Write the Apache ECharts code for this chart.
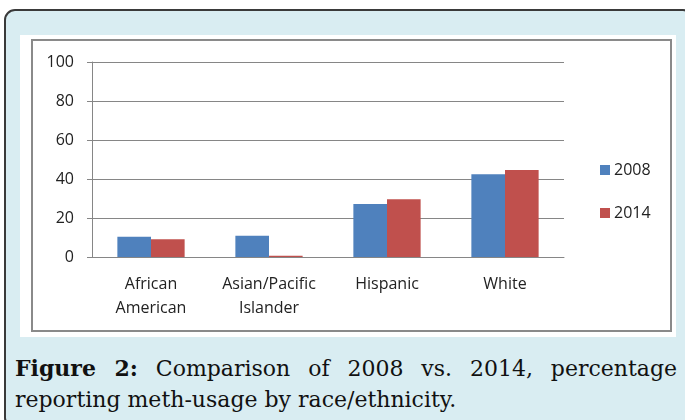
<!DOCTYPE html>
<html>
<head>
<meta charset="utf-8">
<script src="https://cdn.jsdelivr.net/npm/echarts@6/dist/echarts.min.js"></script>
<style>
  html, body { margin: 0; padding: 0; background: #fff; }
  #frame {
    position: absolute; left: 4px; top: 9px; width: 690px; height: 420px;
    background: #d9edf2; border: 2px solid #3a3a3a; border-radius: 11px;
    box-sizing: border-box;
  }
  #panel { position: absolute; left: 20px; top: 35px; width: 656px; height: 302px; background: #fff; }
  #box { position: absolute; left: 31px; top: 39px; width: 641px; height: 293px; border: 2px solid #8a8a8a; box-sizing: border-box; }
  #chart { position: absolute; left: 0; top: 0; width: 685px; height: 420px; }
  .cap { position: absolute; left: 15px; width: 662px; font-family: "DejaVu Serif", serif; font-size: 22px; color: #111; white-space: nowrap; }
  .cap b { font-weight: 600; }
  #cap1 { top: 355px; text-align: justify; text-align-last: justify; white-space: normal; }
  #cap2 { top: 387px; }
</style>
</head>
<body>
<div id="frame"></div>
<div id="panel"></div>
<div id="box"></div>
<div id="cap1" class="cap"><b>Figure 2:</b> Comparison of 2008 vs. 2014, percentage</div>
<div id="cap2" class="cap">reporting meth-usage by race/ethnicity.</div>
<div id="chart"></div>
<script>
const categories = ['African\nAmerican', 'Asian/Pacific\nIslander', 'Hispanic', 'White']
const values2008 = [10.4, 10.9, 27.2, 42.4]
const values2014 = [9.1, 0.6, 29.6, 44.6]
const yTicks = { min: 0, max: 100, interval: 20 }

const font = 'Open Sans'
const chart = echarts.init(document.getElementById('chart'))
chart.setOption({
  animation: false,
  backgroundColor: 'transparent',
  grid: { left: 92, right: 121, top: 62, bottom: 163 },
  legend: {
    orient: 'vertical',
    left: 595, top: 157,
    itemWidth: 10, itemHeight: 10, itemGap: 27,
    icon: 'rect',
    textStyle: { fontFamily: font, fontSize: 16, color: '#222', padding: [0, 0, 0, -1] },
    data: ['2008', '2014']
  },
  xAxis: {
    type: 'category',
    data: categories,
    axisLine: { lineStyle: { color: '#868686' } },
    axisTick: { length: 5, lineStyle: { color: '#868686' } },
    axisLabel: { interval: 0, fontFamily: font, fontSize: 16, color: '#222', lineHeight: 24, margin: 15 }
  },
  yAxis: {
    type: 'value',
    min: yTicks.min, max: yTicks.max, interval: yTicks.interval,
    axisLine: { show: true, lineStyle: { color: '#868686' } },
    axisTick: { show: true, length: 5, lineStyle: { color: '#868686' } },
    axisLabel: { fontFamily: font, fontSize: 16, color: '#222', margin: 18 },
    splitLine: { lineStyle: { color: '#868686' } }
  },
  series: [
    { name: '2008', type: 'bar', data: values2008, itemStyle: { color: '#4f81bd' }, barGap: '0%', barCategoryGap: '43%' },
    { name: '2014', type: 'bar', data: values2014, itemStyle: { color: '#c0504d' }, barGap: '0%', barCategoryGap: '43%' }
  ]
})
</script>
</body>
</html>
